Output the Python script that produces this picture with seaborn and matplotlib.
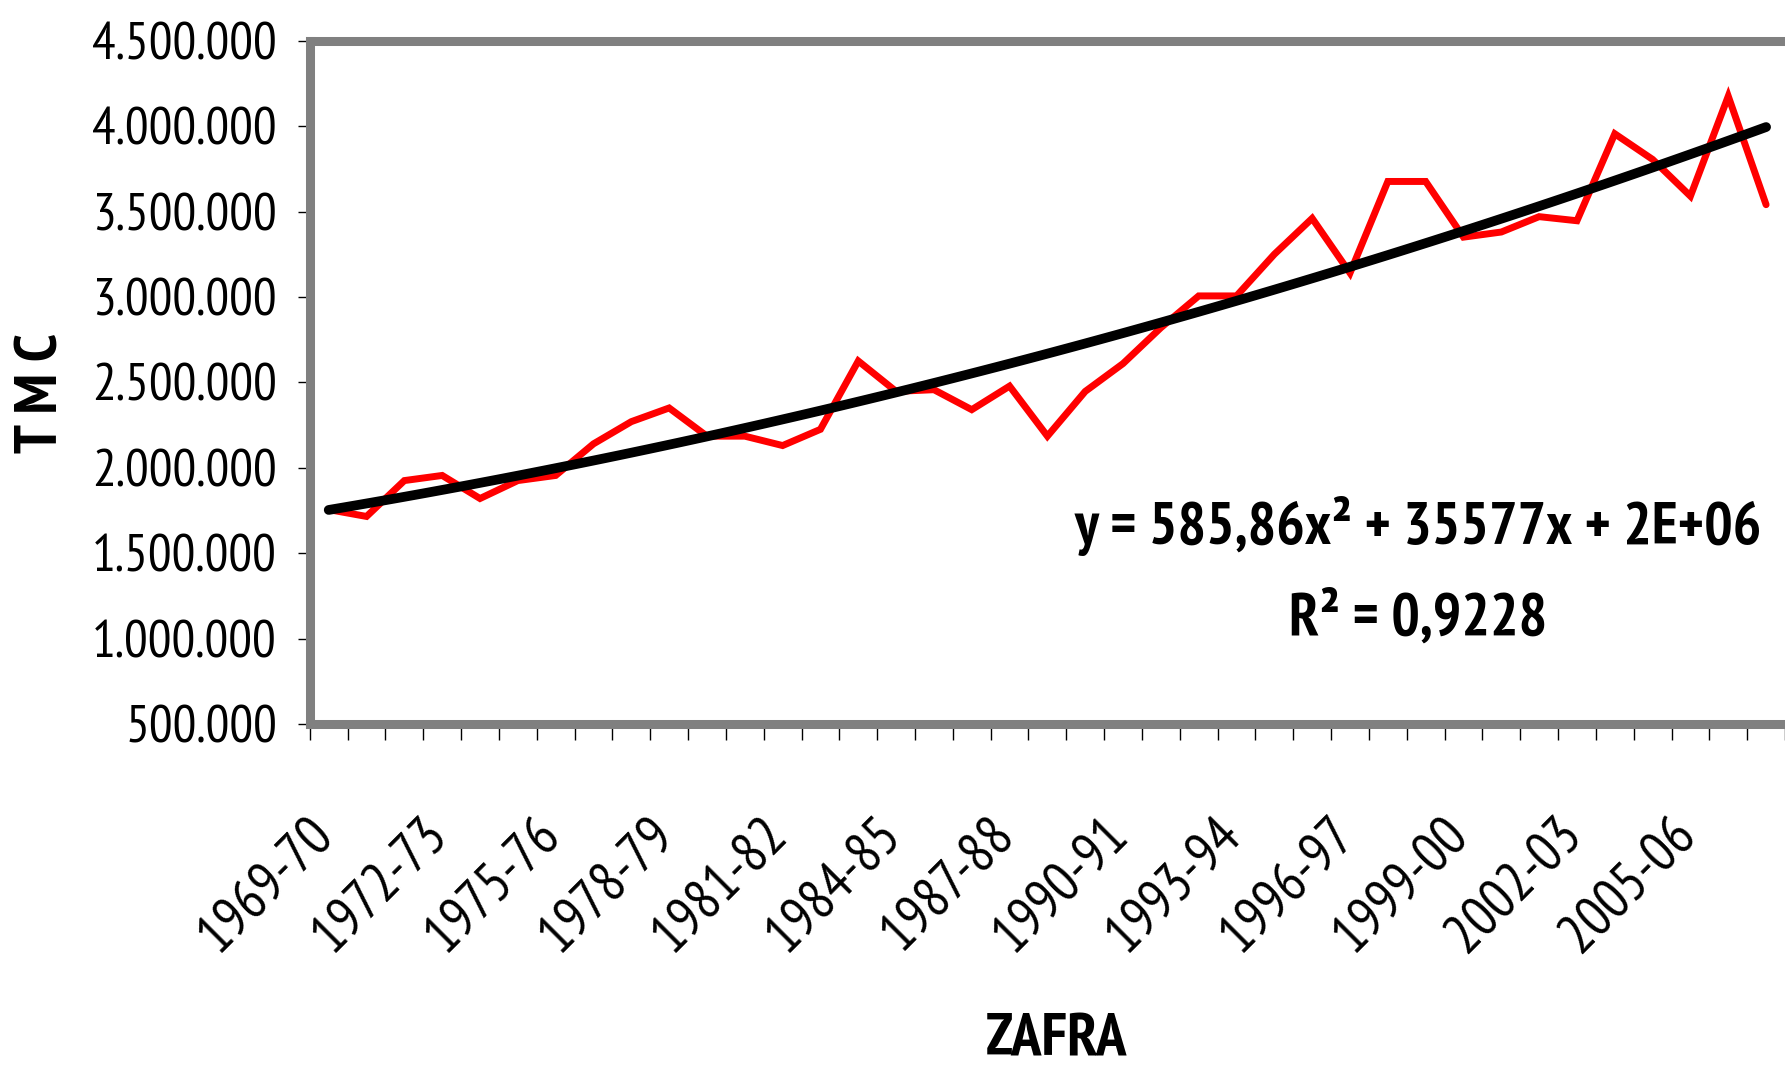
import numpy as np
import pandas as pd
import seaborn as sns
import matplotlib.pyplot as plt
from matplotlib.ticker import FuncFormatter
from matplotlib.transforms import ScaledTranslation

# season labels (zafra) 1969-70 .. 2007-08
seasons = [f"{y}-{str(y + 1)[-2:]}" for y in range(1969, 2008)]

# TMC per season
tmc = [1755000, 1715000, 1925000, 1955000, 1820000, 1925000, 1955000,
       2140000, 2270000, 2350000, 2185000, 2185000, 2130000, 2225000,
       2625000, 2447000, 2457000, 2340000, 2478000, 2185000, 2447000,
       2610000, 2820000, 3006000, 3006000, 3250000, 3460000, 3140000,
       3676000, 3676000, 3350000, 3380000, 3470000, 3446000, 3955000,
       3805000, 3590000, 4175000, 3540000]

eq_text = "y = 585,86x\u00b2 + 35577x + 2E+06"
r2_text = "R\u00b2 = 0,9228"

df = pd.DataFrame({"zafra": seasons, "tmc": tmc})
df["pos"] = np.arange(len(df))

sns.set_style("white")
plt.rcParams["font.family"] = ["PT Sans Narrow", "DejaVu Sans"]
for k in ["text.color", "axes.labelcolor", "xtick.color", "ytick.color"]:
    plt.rcParams[k] = "black"

fig = plt.figure(figsize=(17.85, 10.66), dpi=100)
ax = fig.add_axes([309.8 / 1785, 1 - 724 / 1066, 1 - 309.8 / 1785, (724 - 40.7) / 1066])

sns.lineplot(data=df, x="pos", y="tmc", color="red", lw=5, ax=ax)
ax.lines[0].set_solid_joinstyle("miter")

# quadratic trend line
sns.regplot(data=df, x="pos", y="tmc", order=2, ci=None, scatter=False, truncate=True,
            line_kws=dict(color="black", lw=7, solid_capstyle="round"), ax=ax)

ax.set_xlim(-0.5, 38.09)
ax.set_ylim(500000, 4500000)

# frame
for side in ["left", "top", "bottom"]:
    ax.spines[side].set_color("#808080")
    ax.spines[side].set_linewidth(6.5)
ax.spines["right"].set_visible(False)
ax.axvline(-0.5, color="black", lw=1.2)
ax.axhline(500000, color="black", lw=1.2)

# y axis
ax.set_yticks(np.arange(500000, 4500001, 500000))
ax.yaxis.set_major_formatter(FuncFormatter(lambda v, p: f"{int(v):,}".replace(",", ".")))
ax.tick_params(axis="y", direction="out", length=8.6, width=1, color="black",
               labelsize=38, pad=15, left=True)

# x axis: tick marks between seasons, labels every 3 seasons
ax.set_xticks(np.arange(-0.5, 39.5, 1.0))
ax.set_xticklabels([])
ax.tick_params(axis="x", which="major", direction="out", length=11.5, width=1,
               color="black", bottom=True)
lab_pos = df["pos"].values[::3]
ax.set_xticks(lab_pos, minor=True)
ax.set_xticklabels(df["zafra"].values[::3], minor=True, rotation=45,
                   ha="right", va="top", rotation_mode="anchor")
ax.tick_params(axis="x", which="minor", length=0, labelsize=40, pad=64)
shift = ScaledTranslation(-0.21, 0.04, fig.dpi_scale_trans)
for lbl in ax.get_xticklabels(minor=True):
    lbl.set_transform(lbl.get_transform() + shift)

ax.set_xlabel("")
ax.set_ylabel("")

fig.text(42 / 1785, 1 - 393 / 1066, "T M C", rotation=90, ha="center", va="center",
         fontsize=44, fontweight="bold")
fig.text(1056 / 1785, 1 - 1041 / 1066, "ZAFRA", ha="center", va="center",
         fontsize=44, fontweight="bold")

fig.text(1418 / 1785, 1 - 544 / 1066, eq_text, ha="center", va="baseline",
         fontsize=43, fontweight="bold")
fig.text(1418 / 1785, 1 - 635 / 1066, r2_text, ha="center", va="baseline",
         fontsize=43, fontweight="bold")

fig.savefig("out.png", dpi=100)
